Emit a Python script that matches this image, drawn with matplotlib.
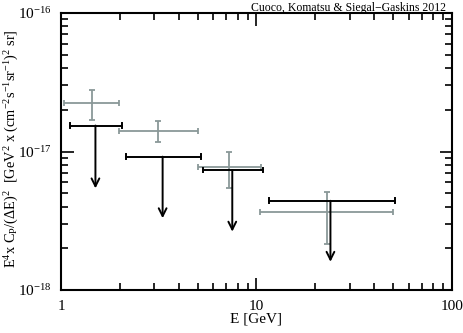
import numpy as np
import matplotlib
matplotlib.use('Agg')
import matplotlib.pyplot as plt
from matplotlib.ticker import LogLocator, NullFormatter

plt.rcParams['font.family'] = 'Liberation Serif'
plt.rcParams['mathtext.fontset'] = 'custom'
plt.rcParams['mathtext.rm'] = 'Liberation Serif'
plt.rcParams['mathtext.it'] = 'Liberation Serif:italic'

# measured points (gray)
meas_e = [1.44, 3.15, 7.23, 22.9]
meas_lo = [1.04, 1.98, 5.0, 10.4]
meas_hi = [1.99, 5.0, 10.5, 50.1]
meas_c = [2.23e-17, 1.41e-17, 7.73e-18, 3.68e-18]
meas_cup = [2.78e-17, 1.65e-17, 1.0e-17, 5.13e-18]
meas_cdn = [1.69e-17, 1.17e-17, 5.48e-18, 2.16e-18]

# upper limits (black)
ul_e = [1.50, 3.31, 7.52, 23.9]
ul_lo = [1.11, 2.14, 5.35, 11.6]
ul_hi = [2.06, 5.18, 10.8, 51.1]
ul_c = [1.54e-17, 9.18e-18, 7.35e-18, 4.41e-18]
ul_tip = [5.42e-18, 3.30e-18, 2.64e-18, 1.60e-18]

gray = '#8a9898'

fig = plt.figure(figsize=(4.64, 3.33), dpi=100)
ax = fig.add_axes([0.1315, 0.129, 0.8425, 0.832])

e = np.array(meas_e)
c = np.array(meas_c)
ax.errorbar(e, c,
            xerr=[e - np.array(meas_lo), np.array(meas_hi) - e],
            yerr=[c - np.array(meas_cdn), np.array(meas_cup) - c],
            fmt='none', ecolor=gray, elinewidth=1.3, capsize=2.5, capthick=1.3)

for x, lo, hi, y, tip in zip(ul_e, ul_lo, ul_hi, ul_c, ul_tip):
    ax.plot([lo, hi], [y, y], color='black', lw=1.4)
    ax.plot([lo, lo], [y * 0.96, y * 1.04], color='black', lw=1.4)
    ax.plot([hi, hi], [y * 0.96, y * 1.04], color='black', lw=1.4)
    ax.annotate('', xy=(x, tip), xytext=(x, y),
                arrowprops=dict(arrowstyle='->', color='black', lw=1.4,
                                mutation_scale=14, shrinkA=0, shrinkB=0))

ax.set_xscale('log')
ax.set_yscale('log')
ax.set_xlim(1, 100)
ax.set_ylim(1e-18, 1e-16)

ax.yaxis.set_major_locator(LogLocator(base=10, numticks=5))
ax.yaxis.set_minor_locator(LogLocator(base=10, subs=np.arange(2, 10), numticks=10))
ax.yaxis.set_minor_formatter(NullFormatter())
ax.xaxis.set_minor_formatter(NullFormatter())
ax.set_xticks([1, 10, 100])
ax.set_xticklabels(['1', '10', '100'])

ax.tick_params(which='both', direction='in', top=True, right=True, labelsize=11, width=1.2)
ax.tick_params(which='major', length=9, pad=7)
ax.tick_params(which='minor', length=5)
for sp in ax.spines.values():
    sp.set_linewidth(1.5)

ax.set_xlabel('E [GeV]', fontsize=11, labelpad=0)
ax.set_ylabel(r'E$^4$x C$_\mathrm{P}$/($\Delta$E)$^2$  [GeV$^2$ x (cm$^{-2}$s$^{-1}$sr$^{-1}$)$^2$ sr]',
              fontsize=10.4)
ax.yaxis.set_label_coords(-0.103, 0.51)
fig.text(0.962, 0.967, 'Cuoco, Komatsu & Siegal\u2212Gaskins 2012', fontsize=8.5,
         ha='right', va='baseline')

fig.savefig('out.png', dpi=100)
